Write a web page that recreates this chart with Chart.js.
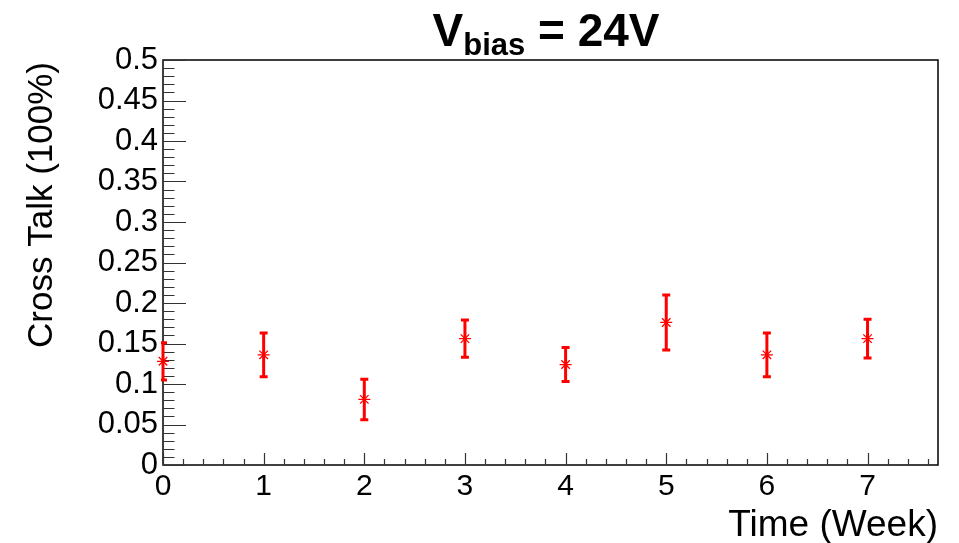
<!DOCTYPE html>
<html>
<head>
<meta charset="utf-8">
<script src="https://cdn.jsdelivr.net/npm/chart.js@4/dist/chart.umd.min.js"></script>
<style>
  html, body { margin: 0; padding: 0; background: #fff; }
  #wrap { width: 959px; height: 543px; }
</style>
</head>
<body>
<div id="wrap"><canvas id="c" width="959" height="543"></canvas></div>
<script>
// Cross talk measured each week at Vbias = 24 V
const weeks = [0, 1, 2, 3, 4, 5, 6, 7];
const crossTalk = [0.128, 0.136, 0.081, 0.156, 0.124, 0.176, 0.136, 0.156];
const crossTalkErr = [0.023, 0.027, 0.025, 0.023, 0.021, 0.034, 0.027, 0.024];

// Axis ranges and tick labels
const xRange = [0, 7.7];
const yRange = [0, 0.5];
const xTickValues = [0, 1, 2, 3, 4, 5, 6, 7];
const xTickLabels = ['0', '1', '2', '3', '4', '5', '6', '7'];
const yTickValues = [0, 0.05, 0.1, 0.15, 0.2, 0.25, 0.3, 0.35, 0.4, 0.45, 0.5];
const yTickLabels = ['0', '0.05', '0.1', '0.15', '0.2', '0.25', '0.3', '0.35', '0.4', '0.45', '0.5'];

const FONT = '"Liberation Sans", Arial, Helvetica, sans-serif';
const RED = '#ff0000';

// Frame, inward major/minor ticks and vertical error bars
const framePlugin = {
  id: 'frameAndErrors',
  beforeDatasetsDraw(chart) {
    const { ctx, chartArea: a, scales: { x, y } } = chart;
    ctx.save();
    // frame
    ctx.strokeStyle = '#000';
    ctx.lineWidth = 1.5;
    ctx.strokeRect(a.left, a.top, a.right - a.left, a.bottom - a.top);

    ctx.lineWidth = 1.2;
    ctx.strokeStyle = '#333';
    ctx.beginPath();
    // x axis ticks: majors every 1, minors every 0.2
    for (let i = 0; i * 0.2 <= xRange[1] + 1e-9; i++) {
      const px = Math.round(x.getPixelForValue(i * 0.2)) + 0.5;
      const len = i % 5 === 0 ? 12 : 6;
      ctx.moveTo(px, a.bottom);
      ctx.lineTo(px, a.bottom - len);
    }
    // y axis ticks: majors every 0.05, minors every 0.01
    for (let i = 0; i * 0.01 <= yRange[1] + 1e-9; i++) {
      const py = Math.round(y.getPixelForValue(i * 0.01)) + 0.5;
      const len = i % 5 === 0 ? 23 : 11.5;
      ctx.moveTo(a.left, py);
      ctx.lineTo(a.left + len, py);
    }
    ctx.stroke();

    // error bars
    ctx.strokeStyle = RED;
    ctx.lineWidth = 3;
    ctx.beginPath();
    ctx.rect(a.left - 2, a.top, a.right - a.left + 2, a.bottom - a.top);
    ctx.clip();
    ctx.beginPath();
    weeks.forEach((w, i) => {
      const px = x.getPixelForValue(w);
      const top = y.getPixelForValue(crossTalk[i] + crossTalkErr[i]);
      const bot = y.getPixelForValue(crossTalk[i] - crossTalkErr[i]);
      ctx.moveTo(px, top);
      ctx.lineTo(px, bot);
      ctx.moveTo(px - 4, top);
      ctx.lineTo(px + 4, top);
      ctx.moveTo(px - 4, bot);
      ctx.lineTo(px + 4, bot);
    });
    ctx.stroke();
    ctx.restore();
  },
  afterDraw(chart) {
    const { ctx, chartArea: a } = chart;
    ctx.save();
    ctx.fillStyle = '#000';

    // title: V_bias = 24V
    const big = 'bold 46px ' + FONT;
    const small = 'bold 31px ' + FONT;
    ctx.font = big;
    const wV = ctx.measureText('V').width;
    const wRest = ctx.measureText(' = 24V').width;
    ctx.font = small;
    const wSub = ctx.measureText('bias').width;
    let tx = 546 - (wV + wSub + wRest) / 2;
    const base = 46;
    ctx.textBaseline = 'alphabetic';
    ctx.textAlign = 'left';
    ctx.font = big;
    ctx.fillText('V', tx, base);
    tx += wV;
    ctx.font = small;
    ctx.fillText('bias', tx, base + 9);
    tx += wSub;
    ctx.font = big;
    ctx.fillText(' = 24V', tx, base);

    // x axis title
    ctx.font = '37px ' + FONT;
    ctx.textAlign = 'right';
    ctx.fillText('Time (Week)', a.right, 536);

    // y axis title
    ctx.save();
    ctx.translate(52, a.top + 2);
    ctx.rotate(-Math.PI / 2);
    ctx.font = '35px ' + FONT;
    ctx.textAlign = 'right';
    ctx.textBaseline = 'alphabetic';
    ctx.fillText('Cross Talk (100%)', 0, 0);
    ctx.restore();

    ctx.restore();
  }
};

new Chart(document.getElementById('c'), {
  type: 'scatter',
  data: {
    datasets: [{
      data: weeks.map((w, i) => ({ x: w, y: crossTalk[i] })),
      pointStyle: 'star',
      radius: 6,
      hoverRadius: 6,
      borderColor: RED,
      backgroundColor: RED,
      borderWidth: 1.3,
      showLine: false,
      clip: false
    }]
  },
  options: {
    responsive: false,
    animation: false,
    events: [],
    layout: { padding: { left: 0, top: 60, right: 21, bottom: 0 } },
    plugins: { legend: { display: false }, tooltip: { enabled: false }, title: { display: false } },
    scales: {
      x: {
        type: 'linear',
        min: xRange[0],
        max: xRange[1],
        afterBuildTicks: s => { s.ticks = xTickValues.map(v => ({ value: v })); },
        afterFit: s => { s.height = 78; },
        grid: { display: false, drawTicks: false },
        border: { display: false },
        ticks: {
          color: '#000',
          font: { family: FONT, size: 30 },
          padding: 4,
          maxRotation: 0,
          autoSkip: false,
          callback: (v, i) => xTickLabels[i]
        }
      },
      y: {
        type: 'linear',
        min: yRange[0],
        max: yRange[1],
        afterBuildTicks: s => { s.ticks = yTickValues.map(v => ({ value: v })); },
        afterFit: s => { s.width = 163; },
        grid: { display: false, drawTicks: false },
        border: { display: false },
        ticks: {
          color: '#000',
          font: { family: FONT, size: 31 },
          padding: 5,
          autoSkip: false,
          callback: (v, i) => yTickLabels[i]
        }
      }
    }
  },
  plugins: [framePlugin]
});
</script>
</body>
</html>
